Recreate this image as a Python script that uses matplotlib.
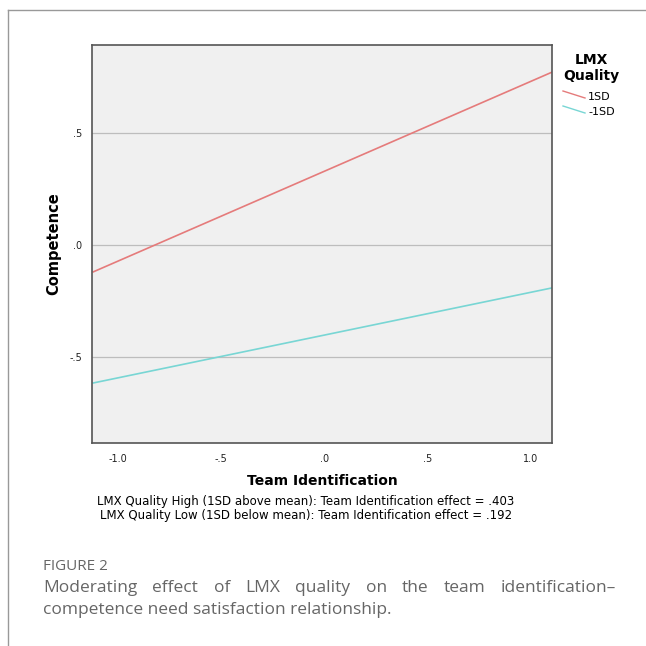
import matplotlib
matplotlib.use("Agg")
import matplotlib.pyplot as plt
from matplotlib.lines import Line2D

# data
x_range = [-1.12, 1.11]
high_line = [-0.12, 0.775]   # LMX Quality 1SD
low_line = [-0.616, -0.19]   # LMX Quality -1SD
x_ticks = [-1.0, -0.5, 0.0, 0.5, 1.0]
x_tick_labels = ["-1.0", "-.5", ".0", ".5", "1.0"]
y_ticks = [-0.5, 0.0, 0.5]
y_tick_labels = ["-.5", ".0", ".5"]
series_names = ["1SD", "-1SD"]
series_colors = ["#e57b7b", "#78d6d4"]

W = H = 646
fig = plt.figure(figsize=(W / 100, H / 100), dpi=100)

# frame lines of the panel (top and left only)
fig.add_artist(Line2D([8 / W, 1], [1 - 10 / H, 1 - 10 / H], color="#999999", lw=1))
fig.add_artist(Line2D([8 / W, 8 / W], [0, 1 - 10 / H], color="#999999", lw=1))

ax = fig.add_axes([92 / W, 1 - 443 / H, (552 - 92) / W, (443 - 45) / H])
ax.set_facecolor("#f0f0f0")
for s in ax.spines.values():
    s.set_color("#555555")
    s.set_linewidth(1.2)

ax.plot(x_range, high_line, color=series_colors[0], lw=1.2)
ax.plot(x_range, low_line, color=series_colors[1], lw=1.2)
for yv in y_ticks:
    ax.axhline(yv, color="#bdbdbd", lw=0.9, zorder=0)

ax.set_xlim(-1.126, 1.102)
ax.set_ylim(-0.884, 0.893)
ax.set_xticks(x_ticks)
ax.set_xticklabels(x_tick_labels)
ax.set_yticks(y_ticks)
ax.set_yticklabels(y_tick_labels)
ax.tick_params(length=0, labelsize=7, colors="#222222")
ax.tick_params(axis="x", pad=8)
ax.tick_params(axis="y", pad=7)

ax.set_ylabel("Competence", fontsize=10.5, fontweight="bold", labelpad=6)
ax.set_xlabel("Team Identification", fontsize=10, fontweight="bold", labelpad=7)

# legend drawn by hand to the right of the axes
fig.text(591 / W, 1 - 60 / H, "LMX", ha="center", va="center", fontsize=10, fontweight="bold")
fig.text(591 / W, 1 - 76 / H, "Quality", ha="center", va="center", fontsize=10, fontweight="bold")
for i, (name, col) in enumerate(zip(series_names, series_colors)):
    yy = 1 - (97 + i * 15) / H
    fig.add_artist(Line2D([563 / W, 585 / W], [yy + 6 / H, yy - 1 / H], color=col, lw=1))
    fig.text(588 / W, yy, name, ha="left", va="center", fontsize=8)

fig.text(306 / W, 1 - 501 / H, "LMX Quality High (1SD above mean): Team Identification effect = .403",
         ha="center", va="center", fontsize=8.5)
fig.text(306 / W, 1 - 515 / H, "LMX Quality Low (1SD below mean): Team Identification effect = .192",
         ha="center", va="center", fontsize=8.5)

# caption
cap_font = dict(family="Open Sans", color="#666666")
fig.text(43 / W, 1 - 567 / H, "FIGURE 2", ha="left", va="center", fontsize=11, **cap_font)

line1 = "Moderating effect of LMX quality on the team identification–".split(" ")
left, right = 43, 616
renderer = fig.canvas.get_renderer()
words = [fig.text(0, 1 - 588 / H, w, ha="left", va="center", fontsize=12.5, **cap_font) for w in line1]
widths = [t.get_window_extent(renderer).width for t in words]
gap = (right - left - sum(widths)) / (len(words) - 1)
pos = left
for t, w in zip(words, widths):
    t.set_x(pos / W)
    pos += w + gap
fig.text(left / W, 1 - 610 / H, "competence need satisfaction relationship.", ha="left", va="center",
         fontsize=12.5, **cap_font)

fig.savefig("out.png", dpi=100)
